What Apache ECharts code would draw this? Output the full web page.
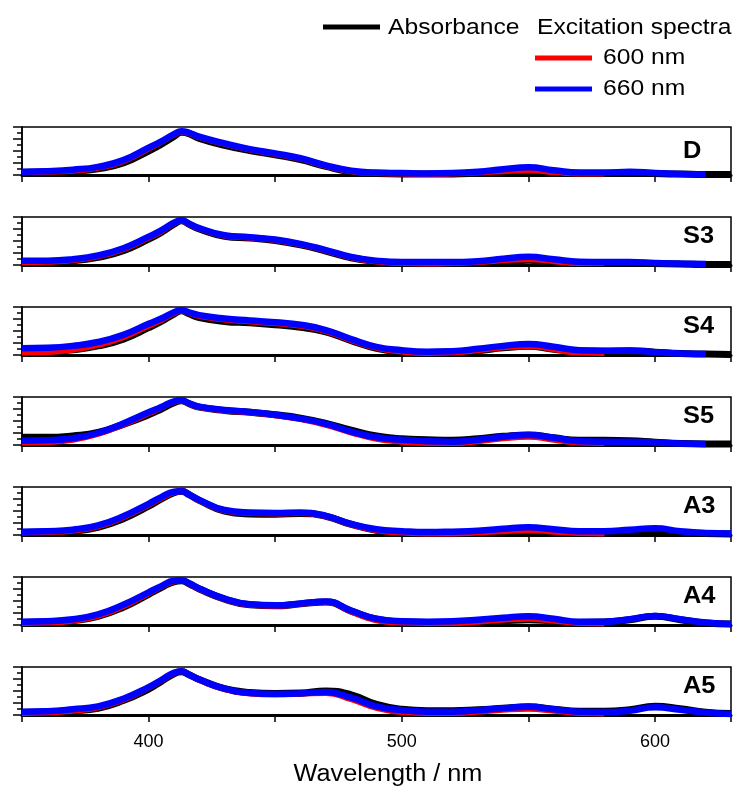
<!DOCTYPE html>
<html>
<head>
<meta charset="utf-8">
<script src="https://cdn.jsdelivr.net/npm/echarts@6/dist/echarts.min.js"></script>
<style>
  html, body { margin: 0; padding: 0; background: #fff; }
  #main { width: 739px; height: 792px; }
</style>
</head>
<body>
<div id="main"></div>
<script>
// wavelength grid (nm)
var wl = [350,360,370,380,390,400,405,410,413,416,420,430,440,450,460,470,480,490,500,510,520,530,540,550,560,570,580,590,600,610,620,630];

var panelNames = ['D','S3','S4','S5','A3','A4','A5'];

// normalised absorbance (black)
var absD  = [0.05,0.06,0.08,0.13,0.25,0.50,0.64,0.80,0.89,0.86,0.76,0.62,0.51,0.42,0.32,0.18,0.07,0.03,0.02,0.02,0.02,0.04,0.07,0.08,0.05,0.03,0.03,0.05,0.03,0.02,0.01,0.01];
var absS3 = [0.06,0.07,0.09,0.16,0.30,0.54,0.68,0.85,0.92,0.85,0.75,0.60,0.56,0.51,0.42,0.29,0.15,0.07,0.04,0.03,0.03,0.05,0.08,0.10,0.07,0.04,0.04,0.04,0.03,0.02,0.01,0.01];
var absS4 = [0.06,0.07,0.11,0.19,0.33,0.57,0.70,0.85,0.92,0.86,0.78,0.70,0.67,0.63,0.58,0.48,0.30,0.14,0.07,0.05,0.06,0.09,0.15,0.18,0.12,0.08,0.08,0.09,0.06,0.03,0.02,0.01];
var absS5 = [0.16,0.16,0.19,0.26,0.43,0.63,0.75,0.88,0.92,0.86,0.79,0.72,0.68,0.63,0.56,0.45,0.31,0.19,0.13,0.11,0.10,0.13,0.18,0.21,0.15,0.10,0.10,0.09,0.06,0.03,0.02,0.02];
var absA3 = [0.05,0.06,0.08,0.16,0.34,0.60,0.75,0.88,0.91,0.84,0.72,0.50,0.44,0.43,0.45,0.39,0.22,0.10,0.05,0.03,0.03,0.04,0.06,0.07,0.05,0.04,0.04,0.05,0.07,0.05,0.03,0.02];
var absA4 = [0.05,0.06,0.09,0.18,0.37,0.64,0.78,0.90,0.92,0.86,0.75,0.54,0.42,0.40,0.44,0.48,0.29,0.12,0.06,0.05,0.05,0.07,0.09,0.11,0.08,0.05,0.06,0.11,0.18,0.11,0.04,0.02];
var absA5 = [0.05,0.06,0.09,0.14,0.30,0.54,0.70,0.86,0.90,0.84,0.74,0.55,0.47,0.45,0.46,0.50,0.42,0.22,0.12,0.09,0.09,0.11,0.14,0.17,0.12,0.08,0.08,0.11,0.18,0.13,0.06,0.03];

// excitation spectra, emission at 600 nm (red, ends at 580 nm)
var ex600D  = [0.06,0.07,0.09,0.15,0.29,0.55,0.69,0.84,0.90,0.87,0.79,0.65,0.53,0.44,0.34,0.19,0.08,0.04,0.03,0.02,0.03,0.05,0.08,0.10,0.06,0.03,0.03];
var ex600S3 = [0.06,0.07,0.10,0.18,0.33,0.57,0.70,0.87,0.92,0.85,0.76,0.61,0.57,0.52,0.43,0.30,0.16,0.07,0.04,0.03,0.04,0.06,0.10,0.12,0.08,0.04,0.04];
var ex600S4 = [0.05,0.06,0.11,0.21,0.37,0.61,0.73,0.87,0.92,0.88,0.81,0.74,0.70,0.66,0.61,0.50,0.31,0.15,0.07,0.04,0.05,0.10,0.16,0.19,0.12,0.05,0.04];
var ex600S5 = [0.05,0.06,0.11,0.23,0.43,0.66,0.78,0.90,0.92,0.86,0.79,0.72,0.68,0.62,0.54,0.42,0.26,0.13,0.07,0.04,0.04,0.08,0.14,0.17,0.11,0.05,0.04];
var ex600A3 = [0.05,0.06,0.09,0.18,0.37,0.63,0.77,0.89,0.91,0.84,0.72,0.51,0.46,0.45,0.46,0.39,0.22,0.10,0.05,0.03,0.03,0.05,0.08,0.10,0.07,0.04,0.03];
var ex600A4 = [0.04,0.05,0.09,0.19,0.39,0.66,0.80,0.91,0.93,0.86,0.75,0.54,0.42,0.40,0.44,0.48,0.28,0.10,0.05,0.04,0.04,0.07,0.11,0.13,0.09,0.04,0.03];
var ex600A5 = [0.04,0.05,0.09,0.16,0.32,0.57,0.72,0.87,0.91,0.84,0.73,0.54,0.45,0.43,0.44,0.46,0.33,0.15,0.06,0.04,0.04,0.07,0.11,0.13,0.09,0.04,0.03];

// excitation spectra, emission at 660 nm (blue)
var ex660D  = [0.07,0.08,0.11,0.17,0.31,0.57,0.70,0.85,0.91,0.88,0.80,0.66,0.54,0.45,0.35,0.20,0.09,0.05,0.04,0.03,0.04,0.07,0.12,0.16,0.10,0.05,0.05,0.07,0.04,0.02,0.01];
var ex660S3 = [0.09,0.09,0.12,0.20,0.35,0.59,0.72,0.88,0.93,0.86,0.77,0.62,0.58,0.53,0.44,0.31,0.17,0.09,0.06,0.06,0.06,0.08,0.13,0.17,0.12,0.07,0.06,0.06,0.04,0.03,0.02];
var ex660S4 = [0.14,0.15,0.19,0.27,0.42,0.65,0.76,0.89,0.93,0.89,0.83,0.76,0.72,0.68,0.63,0.52,0.33,0.17,0.10,0.07,0.08,0.13,0.19,0.23,0.17,0.10,0.09,0.09,0.06,0.03,0.02];
var ex660S5 = [0.09,0.10,0.14,0.25,0.45,0.68,0.79,0.91,0.93,0.87,0.80,0.73,0.69,0.63,0.55,0.44,0.28,0.16,0.11,0.08,0.07,0.11,0.17,0.21,0.15,0.08,0.07,0.07,0.05,0.03,0.02];
var ex660A3 = [0.07,0.08,0.11,0.20,0.39,0.65,0.79,0.90,0.91,0.84,0.73,0.52,0.47,0.46,0.47,0.40,0.23,0.12,0.08,0.06,0.07,0.09,0.13,0.16,0.12,0.08,0.08,0.11,0.14,0.08,0.04,0.03];
var ex660A4 = [0.07,0.08,0.12,0.22,0.42,0.68,0.81,0.92,0.93,0.87,0.76,0.55,0.43,0.41,0.45,0.49,0.30,0.13,0.08,0.07,0.08,0.11,0.15,0.18,0.13,0.07,0.07,0.12,0.19,0.12,0.05,0.02];
var ex660A5 = [0.07,0.08,0.12,0.18,0.34,0.58,0.73,0.88,0.91,0.84,0.74,0.55,0.46,0.44,0.45,0.48,0.36,0.18,0.10,0.07,0.07,0.10,0.14,0.17,0.12,0.07,0.06,0.09,0.16,0.11,0.05,0.02];

var absList   = [absD, absS3, absS4, absS5, absA3, absA4, absA5];
var ex600List = [ex600D, ex600S3, ex600S4, ex600S5, ex600A3, ex600A4, ex600A5];
var ex660List = [ex660D, ex660S3, ex660S4, ex660S5, ex660A3, ex660A4, ex660A5];

(function(){
    var FONT = '"Liberation Sans", Arial, sans-serif';
    var panelTop0 = 127, panelStep = 90, panelH = 48;
    var labelDy = [24, 19, 19, 19, 19, 19, 19];

    function pairs(ys){
        var out = [];
        for(var i=0; i<ys.length; i++){
            out.push([wl[i], ys[i]]);
        }
        return out;
    }

    var grids = [], xAxes = [], yAxes = [], series = [], graphics = [];
    var last = panelNames.length - 1;

    for(var p=0; p<panelNames.length; p++){
        var pTop = panelTop0 + p*panelStep;
        grids.push({
            left: 22, right: 8, top: pTop, height: panelH,
            show: true, borderColor: '#000', borderWidth: 1.5, backgroundColor: 'transparent'
        });
        xAxes.push({
            type: 'value', gridIndex: p, min: 350, max: 630, interval: 50,
            axisLine: {show: true, onZero: false, lineStyle: {color: '#000', width: 3}},
            axisTick: {show: true, inside: false, length: 7, lineStyle: {color: '#000', width: 1.5}},
            axisLabel: {
                show: p === last, color: '#000', fontSize: 18, fontFamily: FONT, margin: 18,
                formatter: function(v){
                    return (v % 100 === 0) ? String(v) : '';
                }
            },
            splitLine: {show: false}
        });
        yAxes.push({
            type: 'value', gridIndex: p, min: 0, max: 1, interval: 0.25,
            axisLine: {show: true, lineStyle: {color: '#000', width: 1.5}},
            axisTick: {show: true, inside: false, length: 9, lineStyle: {color: '#000', width: 1.5}},
            minorTick: {show: true, splitNumber: 2, length: 5, lineStyle: {color: '#000', width: 1.5}},
            axisLabel: {show: false},
            splitLine: {show: false}
        });

        series.push({
            type: 'line', name: 'Absorbance', xAxisIndex: p, yAxisIndex: p, showSymbol: false,
            smooth: 0.5, silent: true, z: 2,
            data: pairs(absList[p]), lineStyle: {color: '#000', width: 7}, itemStyle: {color: '#000'}
        });
        series.push({
            type: 'line', name: '600 nm', xAxisIndex: p, yAxisIndex: p, showSymbol: false,
            smooth: 0.5, silent: true, z: 3,
            data: pairs(ex600List[p]), lineStyle: {color: '#ff0000', width: 6}, itemStyle: {color: '#ff0000'}
        });
        series.push({
            type: 'line', name: '660 nm', xAxisIndex: p, yAxisIndex: p, showSymbol: false,
            smooth: 0.5, silent: true, z: 4,
            data: pairs(ex660List[p]), lineStyle: {color: '#0000ff', width: 6.5}, itemStyle: {color: '#0000ff'}
        });

        graphics.push({
            type: 'text', x: 683, y: pTop + labelDy[p], scaleX: 1.06, z: 10,
            style: {text: panelNames[p], fill: '#000', font: 'bold 24px ' + FONT, textAlign: 'left', textVerticalAlign: 'middle'}
        });
    }

    // legend drawn by hand (two columns as in the figure)
    function legendLine(x1, x2, y, color){
        return {type: 'line', z: 10, shape: {x1: x1, y1: y, x2: x2, y2: y}, style: {stroke: color, lineWidth: 5}};
    }
    function legendText(x, y, txt){
        return {type: 'text', x: x, y: y, scaleX: 1.12, z: 10,
            style: {text: txt, fill: '#000', font: '22px ' + FONT, textAlign: 'left', textVerticalAlign: 'middle'}};
    }
    graphics.push(legendLine(323, 380, 27, '#000'));
    graphics.push(legendText(388, 28, 'Absorbance'));
    graphics.push(legendText(537, 28, 'Excitation spectra'));
    graphics.push(legendLine(535, 592, 58, '#ff0000'));
    graphics.push(legendText(603, 58, '600 nm'));
    graphics.push(legendLine(535, 592, 89, '#0000ff'));
    graphics.push(legendText(603, 89, '660 nm'));

    // x axis title
    graphics.push({
        type: 'text', x: 388, y: 775, scaleX: 1.1, z: 10,
        style: {text: 'Wavelength / nm', fill: '#000', font: '23px ' + FONT, textAlign: 'center', textVerticalAlign: 'middle'}
    });

    var chart = echarts.init(document.getElementById('main'), null, {renderer: 'canvas'});
    chart.setOption({
        backgroundColor: '#fff',
        animation: false,
        grid: grids,
        xAxis: xAxes,
        yAxis: yAxes,
        series: series,
        graphic: graphics
    });
})();
</script>
</body>
</html>
